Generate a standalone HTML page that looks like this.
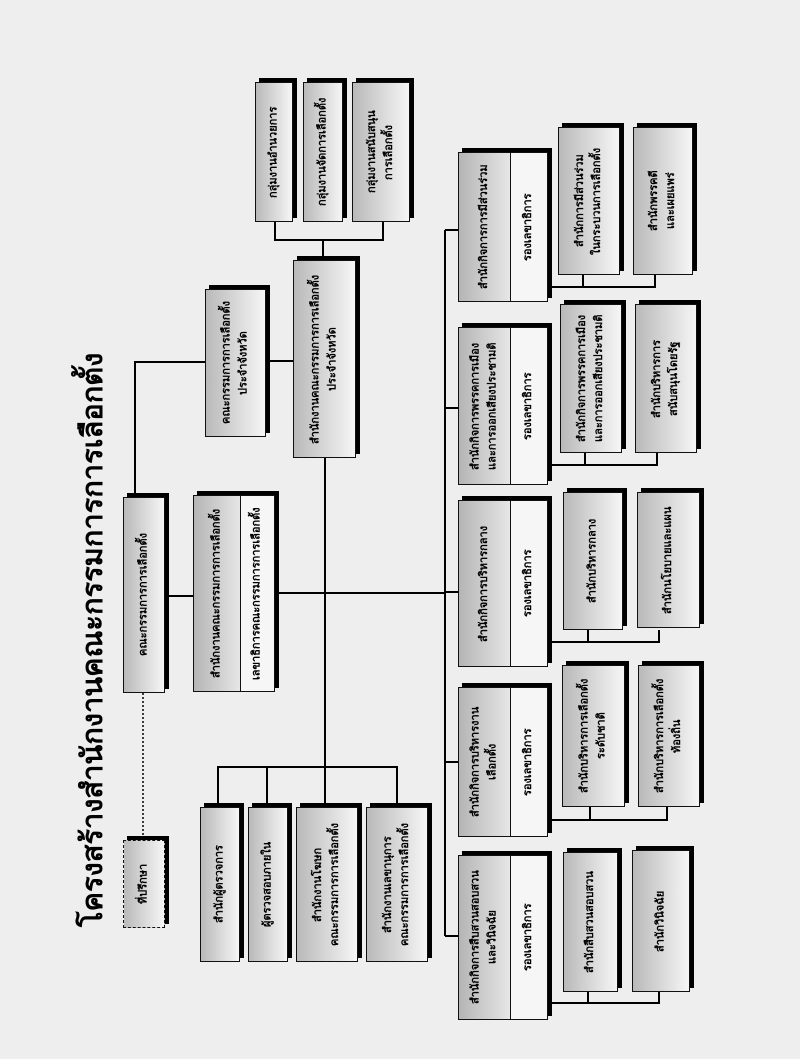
<!DOCTYPE html>
<html><head><meta charset="utf-8"><style>
html,body{margin:0;padding:0}
body{width:800px;height:1059px;background:#eeeeee;position:relative;overflow:hidden;font-family:"Liberation Sans","Noto Sans CJK SC","WenQuanYi Zen Hei",sans-serif}
svg{position:absolute;left:0;top:0}
.b{position:absolute;box-sizing:border-box;border:1.5px solid #111;box-shadow:4px -4px 0 #000;background:linear-gradient(to right,#b9b9b9,#f6f6f6)}
.b.d{border-style:dashed;box-shadow:4px -4px 0 #000}
.t{position:absolute;left:0;top:0;right:0;bottom:0;display:flex;align-items:center;justify-content:center;writing-mode:vertical-rl;transform:rotate(180deg);text-align:center;font-weight:bold;font-size:11px;line-height:17px;color:#000}
.h{position:absolute;box-sizing:border-box;border:1.5px solid #111;box-shadow:4px -4px 0 #000;background:#f6f6f6}
.h .l{position:absolute;left:0;top:0;bottom:0;width:58%;border-right:1.5px solid #111;background:linear-gradient(to right,#b5b5b5,#e6e6e6)}
.h .r{position:absolute;right:0;top:0;bottom:0;width:42%}
.title{position:absolute;left:76px;top:330px;width:34px;height:620px;display:flex;align-items:center;justify-content:center;writing-mode:vertical-rl;transform:rotate(180deg);font-weight:bold;font-size:29px;font-family:"Liberation Serif","Noto Serif CJK SC",serif;white-space:nowrap}
</style></head><body>
<svg width="800" height="1059" fill="none" stroke="#000" stroke-width="2">
<path d="M275 222V240H383V222M323 240V258"/>
<path d="M268 361H293M205 362H135V495"/>
<path d="M325 458V805M218 805V767H397V805M267 767V805"/>
<path d="M165 596H193M275 593H445M445 230V936"/>
<path d="M143 693V838" stroke-dasharray="2 2" stroke-width="1.5"/>
<path d="M445 230H458M445 408H458M445 592H458M445 762H458M445 936H458"/>
<path d="M548 287H655V275M583 287V275"/>
<path d="M548 465H657V453M585 465V453"/>
<path d="M548 642H659V630M588 642V630"/>
<path d="M548 820H667V807M590 820V807"/>
<path d="M548 1003H659V992M588 1003V992"/>
</svg>

<div class="title">โครงสร้างสำนักงานคณะกรรมการการเลือกตั้ง</div>

<div class="b" style="left:255px;top:82px;width:38px;height:140px"><div class="t">กลุ่มงานอำนวยการ</div></div>
<div class="b" style="left:303px;top:82px;width:40px;height:140px"><div class="t">กลุ่มงานจัดการเลือกตั้ง</div></div>
<div class="b" style="left:352px;top:82px;width:58px;height:140px"><div class="t">กลุ่มงานสนับสนุน<br>การเลือกตั้ง</div></div>

<div class="b" style="left:293px;top:260px;width:63px;height:198px"><div class="t">สำนักงานคณะกรรมการการเลือกตั้ง<br>ประจำจังหวัด</div></div>
<div class="b" style="left:205px;top:289px;width:61px;height:148px"><div class="t">คณะกรรมการการเลือกตั้ง<br>ประจำจังหวัด</div></div>

<div class="b" style="left:123px;top:497px;width:42px;height:196px"><div class="t">คณะกรรมการการเลือกตั้ง</div></div>
<div class="h" style="left:193px;top:495px;width:82px;height:197px"><div class="l"><div class="t">สำนักงานคณะกรรมการการเลือกตั้ง</div></div><div class="r"><div class="t">เลขาธิการคณะกรรมการการเลือกตั้ง</div></div></div>

<div class="b d" style="left:123px;top:840px;width:42px;height:88px"><div class="t">ที่ปรึกษา</div></div>

<div class="b" style="left:200px;top:807px;width:40px;height:155px"><div class="t">สำนักผู้ตรวจการ</div></div>
<div class="b" style="left:248px;top:807px;width:40px;height:155px"><div class="t">ผู้ตรวจสอบภายใน</div></div>
<div class="b" style="left:296px;top:807px;width:62px;height:155px"><div class="t">สำนักงานโฆษก<br>คณะกรรมการการเลือกตั้ง</div></div>
<div class="b" style="left:366px;top:807px;width:62px;height:155px"><div class="t">สำนักงานเลขานุการ<br>คณะกรรมการการเลือกตั้ง</div></div>

<div class="h" style="left:458px;top:152px;width:90px;height:150px"><div class="l"><div class="t">สำนักกิจการการมีส่วนร่วม</div></div><div class="r"><div class="t">รองเลขาธิการ</div></div></div>
<div class="b" style="left:558px;top:127px;width:62px;height:148px"><div class="t">สำนักการมีส่วนร่วม<br>ในกระบวนการเลือกตั้ง</div></div>
<div class="b" style="left:633px;top:127px;width:60px;height:148px"><div class="t">สำนักพรรคดี<br>และเผยแพร่</div></div>

<div class="h" style="left:458px;top:327px;width:90px;height:158px"><div class="l"><div class="t">สำนักกิจการพรรคการเมือง<br>และการออกเสียงประชามติ</div></div><div class="r"><div class="t">รองเลขาธิการ</div></div></div>
<div class="b" style="left:560px;top:304px;width:62px;height:149px"><div class="t">สำนักกิจการพรรคการเมือง<br>และการออกเสียงประชามติ</div></div>
<div class="b" style="left:635px;top:304px;width:62px;height:149px"><div class="t">สำนักบริหารการ<br>สนับสนุนโดยรัฐ</div></div>

<div class="h" style="left:458px;top:500px;width:90px;height:167px"><div class="l"><div class="t">สำนักกิจการบริหารกลาง</div></div><div class="r"><div class="t">รองเลขาธิการ</div></div></div>
<div class="b" style="left:563px;top:492px;width:60px;height:138px"><div class="t">สำนักบริหารกลาง</div></div>
<div class="b" style="left:637px;top:492px;width:63px;height:136px"><div class="t">สำนักนโยบายและแผน</div></div>

<div class="h" style="left:458px;top:687px;width:90px;height:150px"><div class="l"><div class="t">สำนักกิจการบริหารงาน<br>เลือกตั้ง</div></div><div class="r"><div class="t">รองเลขาธิการ</div></div></div>
<div class="b" style="left:562px;top:665px;width:63px;height:142px"><div class="t">สำนักบริหารการเลือกตั้ง<br>ระดับชาติ</div></div>
<div class="b" style="left:638px;top:665px;width:62px;height:142px"><div class="t">สำนักบริหารการเลือกตั้ง<br>ท้องถิ่น</div></div>

<div class="h" style="left:458px;top:855px;width:90px;height:165px"><div class="l"><div class="t">สำนักกิจการสืบสวนสอบสวน<br>และวินิจฉัย</div></div><div class="r"><div class="t">รองเลขาธิการ</div></div></div>
<div class="b" style="left:563px;top:852px;width:55px;height:140px"><div class="t">สำนักสืบสวนสอบสวน</div></div>
<div class="b" style="left:632px;top:850px;width:58px;height:142px"><div class="t">สำนักวินิจฉัย</div></div>
</body></html>
